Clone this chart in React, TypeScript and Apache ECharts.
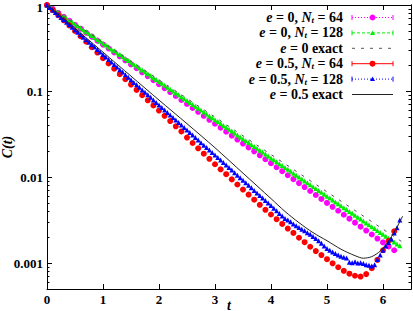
import React, { useEffect, useRef } from 'react';
import * as echarts from 'echarts';

const FONT = '"Liberation Serif", "DejaVu Serif", serif';

// time grids
const T64 = [0,0.1,0.2,0.3,0.4,0.5,0.6,0.7,0.8,0.9,1,1.1,1.2,1.3,1.4,1.5,1.6,1.7,1.8,1.9,2,2.1,2.2,2.3,2.4,2.5,2.6,2.7,2.8,2.9,3,3.1,3.2,3.3,3.4,3.5,3.6,3.7,3.8,3.9,4,4.1,4.2,4.3,4.4,4.5,4.6,4.7,4.8,4.9,5,5.1,5.2,5.3,5.4,5.5,5.6,5.7,5.8,5.9,6,6.1,6.2];
const T128 = [0,0.05,0.1,0.15,0.2,0.25,0.3,0.35,0.4,0.45,0.5,0.55,0.6,0.65,0.7,0.75,0.8,0.85,0.9,0.95,1,1.05,1.1,1.15,1.2,1.25,1.3,1.35,1.4,1.45,1.5,1.55,1.6,1.65,1.7,1.75,1.8,1.85,1.9,1.95,2,2.05,2.1,2.15,2.2,2.25,2.3,2.35,2.4,2.45,2.5,2.55,2.6,2.65,2.7,2.75,2.8,2.85,2.9,2.95,3,3.05,3.1,3.15,3.2,3.25,3.3,3.35,3.4,3.45,3.5,3.55,3.6,3.65,3.7,3.75,3.8,3.85,3.9,3.95,4,4.05,4.1,4.15,4.2,4.25,4.3,4.35,4.4,4.45,4.5,4.55,4.6,4.65,4.7,4.75,4.8,4.85,4.9,4.95,5,5.05,5.1,5.15,5.2,5.25,5.3,5.35,5.4,5.45,5.5,5.55,5.6,5.65,5.7,5.75,5.8,5.85,5.9,5.95,6,6.05,6.1,6.15,6.2,6.25,6.3];

// e = 0, N_t = 64
const C_E0_N64 = [1,0.900,0.809,0.728,0.655,0.589,0.530,0.476,0.429,0.385,0.347,0.312,0.281,0.252,0.227,0.204,0.184,0.165,0.149,0.134,0.120,0.108,0.0973,0.0875,0.0787,0.0708,0.0637,0.0573,0.0515,0.0463,0.0417,0.0375,0.0337,0.0303,0.0273,0.0245,0.0221,0.0199,0.0179,0.0161,0.0145,0.0130,0.0117,0.0105,0.00946,0.00851,0.00766,0.00689,0.00619,0.00557,0.00501,0.00451,0.00406,0.00365,0.00328,0.00295,0.00265,0.00239,0.00215,0.00193,0.00174,0.00156,0.00141];

// e = 0, N_t = 128
const C_E0_N128 = [1,0.950,0.903,0.858,0.815,0.774,0.736,0.699,0.664,0.631,0.600,0.570,0.541,0.514,0.489,0.465,0.441,0.419,0.398,0.379,0.360,0.342,0.325,0.309,0.293,0.279,0.265,0.252,0.239,0.227,0.216,0.205,0.195,0.185,0.176,0.167,0.159,0.151,0.143,0.136,0.129,0.123,0.117,0.111,0.105,
0.100,0.0950,0.0903,0.0858,0.0815,0.0774,0.0736,0.0699,0.0664,0.0631,0.0600,0.0570,0.0541,0.0514,0.0489,0.0465,0.0441,0.0419,0.0398,0.0379,0.0360,0.0342,0.0325,0.0309,0.0293,0.0279,0.0265,0.0252,0.0239,0.0227,0.0216,0.0205,0.0195,0.0185,0.0176,0.0167,0.0159,0.0151,0.0143,0.0136,0.0129,0.0123,0.0117,0.0111,0.0105,
0.0100,0.00950,0.00903,0.00858,0.00815,0.00774,0.00736,0.00699,0.00664,0.00631,0.00600,0.00570,0.00541,0.00514,0.00489,0.00465,0.00441,0.00419,0.00398,0.00379,0.00360,0.00342,0.00325,0.00309,0.00293,0.00279,0.00265,0.00252,0.00239,0.00227,0.00216,0.00205,0.00195,0.00185,0.00176,0.00167,0.00159];

// e = 0 exact
const T_E0_EXACT = [0,1,2,3,4,5,6,6.35];
const C_E0_EXACT = [1,0.368,0.135,0.0498,0.0183,0.00674,0.00248,0.00175];

// e = 0.5, N_t = 64
const C_E05_N64 = [1,0.873,0.762,0.664,0.579,0.499,0.433,0.374,0.323,0.280,0.241,0.209,0.182,0.157,0.137,0.119,0.103,0.0895,0.0780,0.0681,0.0593,0.0515,0.0448,0.0389,0.0339,0.0288,0.0249,0.0216,0.0187,0.0163,0.0141,0.0123,0.0108,0.00940,0.00820,0.00716,0.00625,0.00546,0.00476,0.00416,0.00367,0.00324,0.00285,0.00252,0.00224,0.00197,0.00175,0.00155,0.00138,0.00124,0.00111,0.000995,0.000895,0.000813,0.000753,0.000713,0.000697,0.000745,0.000871,0.00109,0.00141,0.00182,0.00234];

// e = 0.5, N_t = 128
const C_E05_N128 = [1,0.936,0.876,0.820,0.767,0.718,0.672,0.629,0.588,0.551,0.515,0.482,0.451,0.422,0.395,0.370,0.346,0.324,0.303,0.284,0.265,
0.248,0.232,0.217,0.203,0.190,0.177,0.166,0.155,0.145,0.135,0.126,0.118,0.111,0.103,0.0966,0.0904,0.0845,0.0789,0.0738,0.0690,
0.0645,0.0603,0.0564,0.0527,0.0493,0.0461,0.0431,0.0403,0.0377,0.0352,0.0329,0.0308,0.0288,0.0269,0.0251,0.0235,0.0220,0.0206,0.0193,0.0181,
0.0169,0.0158,0.0148,0.0138,0.0129,0.0121,0.0112,0.0105,0.00982,0.00918,0.00858,0.00802,0.00749,0.00700,0.00653,0.00611,0.00570,0.00533,0.00498,0.00466,
0.00435,0.00406,0.00378,0.00353,0.00331,0.00316,0.00302,0.00285,0.00272,0.00260,0.00248,0.00237,0.00226,0.00216,0.00204,0.00193,0.00182,0.00170,0.00158,0.00148,
0.00141,0.00135,0.00129,0.00124,0.00120,0.00117,0.00115,0.00102,0.00101,0.00104,0.00100,0.00101,0.000989,0.000955,0.000944,0.000923,0.000955,0.00110,0.00124,0.00141,
0.00158,0.00174,0.00191,0.00224,0.00257,0.00316];

// e = 0.5 exact
const T_E05_EXACT = [0,0.25,0.5,0.75,1,1.5,2,2.5,3,3.5,4,4.25,4.5,4.75,5,5.25,5.5,5.65,5.8,5.95,6.1,6.2,6.3,6.35];
const C_E05_EXACT = [1,0.733,0.535,0.389,0.283,0.149,0.0785,0.0417,0.0219,0.0111,0.00562,0.00398,0.00295,0.00226,0.00182,0.00145,0.00122,0.00114,0.00119,0.00138,0.00182,0.00229,0.00302,0.00351];

// axis ticks
const X_MIN = 0;
const X_MAX = 6.5;
const Y_MIN = 0.0005;
const Y_MAX = 1;
const Y_MAJOR = [0.001, 0.01, 0.1, 1];
const Y_MINOR = [0.0006,0.0007,0.0008,0.0009,0.002,0.003,0.004,0.005,0.006,0.007,0.008,0.009,0.02,0.03,0.04,0.05,0.06,0.07,0.08,0.09,0.2,0.3,0.4,0.5,0.6,0.7,0.8,0.9];

// legend
const LEGEND_TEXT = [
  '{i|e} = 0, {i|N}{s|t} = 64',
  '{i|e} = 0, {i|N}{s|t} = 128',
  '{i|e} = 0 exact',
  '{i|e} = 0.5, {i|N}{s|t} = 64',
  '{i|e} = 0.5, {i|N}{s|t} = 128',
  '{i|e} = 0.5 exact',
];

const MAGENTA = '#ff00ff';
const GREEN = '#00ee00';
const GRAY = '#555555';
const RED = '#ff0000';
const BLUE = '#0000ff';
const BLACK = '#222222';

function pairs(t: number[], v: number[]) {
  return t.map((x, i) => [x, v[i]]);
}

export default function App() {
  const ref = useRef<HTMLDivElement>(null);
  useEffect(() => {
    const chart = echarts.init(ref.current!, null, { renderer: 'svg' });
    const labelStyle = { fontFamily: FONT, fontWeight: 'bold' as const, fontSize: 13, color: '#000' };
    const lineBlack = { lineStyle: { color: '#000', width: 1 } };

    const yBase = (pos: string, ticks: number[], len: number, labels: boolean) => ({
      type: 'log', logBase: 10, min: Y_MIN, max: Y_MAX, position: pos,
      axisLine: { show: true, ...lineBlack },
      axisTick: { show: true, inside: true, length: len, customValues: ticks, lineStyle: { color: '#000', width: 1 } },
      axisLabel: labels
        ? {
            show: true, customValues: Y_MAJOR, margin: 4, ...labelStyle,
            formatter: (v: number) => {
              const s = String(Number(v.toPrecision(6)));
              return v >= 1 ? '{top|' + s + '}' : s;
            },
            rich: { top: { ...labelStyle, padding: [5, 0, 0, 0] } },
          }
        : { show: false },
      splitLine: { show: false },
      minorTick: { show: false },
    });

    const rowY0 = 17.5;
    const rowDy = 15.4;
    const textX = 343;
    const lx1 = 352, lx2 = 393, mx = 372.5;
    const legendEls: any[] = [];
    const specs = [
      { color: MAGENTA, dash: [1, 2], caps: true, marker: 'circle' },
      { color: GREEN, dash: [3, 2], caps: true, marker: 'triangle' },
      { color: GRAY, dash: [3, 6], caps: false, marker: null },
      { color: RED, dash: null, caps: true, marker: 'circle' },
      { color: BLUE, dash: [1, 2], caps: true, marker: 'triangle' },
      { color: BLACK, dash: null, caps: false, marker: null },
    ];
    specs.forEach((s, i) => {
      const y = rowY0 + i * rowDy;
      legendEls.push({
        type: 'text', x: textX, y,
        style: {
          text: LEGEND_TEXT[i], fill: '#000', align: 'right', verticalAlign: 'middle',
          fontFamily: FONT, fontWeight: 'bold', fontSize: 14, lineHeight: 14,
          rich: {
            i: { fontFamily: FONT, fontWeight: 'bold', fontStyle: 'italic', fontSize: 14, lineHeight: 14 },
            s: { fontFamily: FONT, fontWeight: 'bold', fontStyle: 'italic', fontSize: 9, lineHeight: 10, verticalAlign: 'bottom' },
          },
        },
      });
      const ls: any = { stroke: s.color, lineWidth: 1 };
      if (s.dash) ls.lineDash = s.dash;
      legendEls.push({ type: 'line', shape: { x1: lx1, y1: y, x2: lx2, y2: y }, style: ls });
      if (s.caps) {
        legendEls.push({ type: 'line', shape: { x1: lx1, y1: y - 2.5, x2: lx1, y2: y + 2.5 }, style: { stroke: s.color, lineWidth: 1 } });
        legendEls.push({ type: 'line', shape: { x1: lx2, y1: y - 2.5, x2: lx2, y2: y + 2.5 }, style: { stroke: s.color, lineWidth: 1 } });
      }
      if (s.marker === 'circle') {
        legendEls.push({ type: 'circle', shape: { cx: mx, cy: y, r: 3 }, style: { fill: s.color } });
      } else if (s.marker === 'triangle') {
        legendEls.push({ type: 'polygon', shape: { points: [[mx, y - 2.5], [mx + 2.5, y + 2], [mx - 2.5, y + 2]] }, style: { fill: s.color } });
      }
    });

    const option: any = {
      animation: false,
      backgroundColor: '#fff',
      grid: { left: 47, top: 5, right: 2, bottom: 22, containLabel: false, outerBoundsMode: 'none' },
      xAxis: [
        {
          type: 'value', min: X_MIN, max: X_MAX, interval: 1, position: 'bottom',
          axisLine: { show: true, onZero: false, ...lineBlack },
          axisTick: { show: true, inside: true, length: 5, lineStyle: { color: '#000' } },
          axisLabel: { show: true, margin: 4, showMaxLabel: false, ...labelStyle },
          splitLine: { show: false },
          name: 't', nameLocation: 'middle', nameGap: 10, nameMoveOverlap: false,
          nameTextStyle: { fontFamily: FONT, fontWeight: 'bold', fontStyle: 'italic', fontSize: 14, lineHeight: 12, color: '#000', verticalAlign: 'top' },
        },
        {
          type: 'value', min: X_MIN, max: X_MAX, interval: 1, position: 'top',
          axisLine: { show: true, onZero: false, ...lineBlack },
          axisTick: { show: true, inside: true, length: 5, lineStyle: { color: '#000' } },
          axisLabel: { show: false },
          splitLine: { show: false },
        },
      ],
      yAxis: [
        {
          ...yBase('left', Y_MAJOR, 5, true),
          name: 'C(t)', nameLocation: 'middle', nameGap: 33, nameRotate: 90, nameMoveOverlap: false,
          nameTextStyle: { fontFamily: FONT, fontWeight: 'bold', fontStyle: 'italic', fontSize: 14, lineHeight: 14, color: '#000' },
        },
        yBase('left', Y_MINOR, 2.5, false),
        yBase('right', Y_MAJOR, 5, false),
        yBase('right', Y_MINOR, 2.5, false),
      ],
      graphic: legendEls,
      series: [
        {
          name: 'e = 0, Nt = 64', type: 'scatter', data: pairs(T64, C_E0_N64),
          symbol: 'circle', symbolSize: 6, itemStyle: { color: MAGENTA, opacity: 1 },
        },
        {
          name: 'e = 0, Nt = 128', type: 'scatter', data: pairs(T128, C_E0_N128),
          symbol: 'triangle', symbolSize: 5, itemStyle: { color: GREEN, opacity: 1 },
        },
        {
          name: 'e = 0 exact', type: 'line', data: pairs(T_E0_EXACT, C_E0_EXACT),
          symbol: 'none', showSymbol: false, lineStyle: { color: GRAY, width: 1, type: [3, 6] },
        },
        {
          name: 'e = 0.5, Nt = 64', type: 'scatter', data: pairs(T64, C_E05_N64),
          symbol: 'circle', symbolSize: 6, itemStyle: { color: RED, opacity: 1 },
        },
        {
          name: 'e = 0.5, Nt = 128', type: 'scatter', data: pairs(T128, C_E05_N128),
          symbol: 'triangle', symbolSize: 5, itemStyle: { color: BLUE, opacity: 1 },
        },
        {
          name: 'e = 0.5 exact', type: 'line', data: pairs(T_E05_EXACT, C_E05_EXACT),
          symbol: 'none', showSymbol: false, smooth: 0.3, lineStyle: { color: BLACK, width: 1 },
        },
      ],
    };
    chart.setOption(option);
    return () => chart.dispose();
  }, []);
  return <div ref={ref} style={{ position: 'fixed', left: 0, top: 0, width: 413, height: 311 }} />;
}
